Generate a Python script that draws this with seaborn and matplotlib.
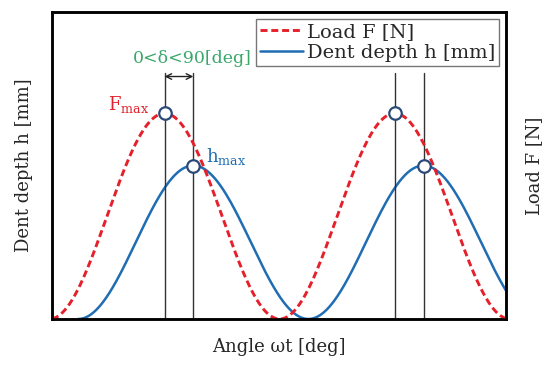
import numpy as np
import pandas as pd
import matplotlib
matplotlib.use("Agg")
import matplotlib.pyplot as plt
import seaborn as sns

# schematic values
period_deg = 360.0       # one load cycle
x_range = [4, 714]       # visible angle range [deg]
load_peak = 0.67         # peak of load curve (axis fraction of height)
depth_peak = 0.50        # peak of dent depth curve
phase_lag_deg = 45.0     # delta between Fmax and hmax
fmax_angles = [180, 540]
hmax_angles = [225, 585]
guide_top = 0.80
arrow_y = 0.79

legend_labels = ["Load F [N]", "Dent depth h [mm]"]
red = "#e5202a"
blue = "#1f6db3"
ring = "#2b4a7a"
green = "#3aa86b"

theta = np.linspace(x_range[0], x_range[1], 800)
load_df = pd.DataFrame({
    "angle": theta,
    "load": load_peak * (1 - np.cos(np.radians(theta * 360 / period_deg))) / 2,
})
# the depth curve only starts once the first dent begins
theta_h = np.linspace(phase_lag_deg, x_range[1], 800)
depth_df = pd.DataFrame({
    "angle": theta_h,
    "depth": depth_peak * (1 - np.cos(np.radians((theta_h - phase_lag_deg) * 360 / period_deg))) / 2,
})

sns.set_style("white")
plt.rcParams["font.family"] = ["DejaVu Serif"]
plt.rcParams["mathtext.fontset"] = "dejavuserif"

fig = plt.figure(figsize=(5.53, 3.65), dpi=100)
ax = fig.add_axes([0.094, 0.126, 0.821, 0.841])
ax2 = ax.twinx()

sns.lineplot(data=depth_df, x="angle", y="depth", ax=ax, color=blue, lw=1.8,
             label=legend_labels[1], legend=False)
sns.lineplot(data=load_df, x="angle", y="load", ax=ax2, color=red, lw=2.1,
             linestyle=(0, (2.4, 1.3)), label=legend_labels[0], legend=False)

for a in ax, ax2:
    a.set_xlim(x_range)
    a.set_ylim(0, 1)
    a.set_xticks([])
    a.set_yticks([])

# guide lines through the peaks
for xa in fmax_angles + hmax_angles:
    ax2.plot([xa, xa], [0, guide_top], color="#333333", lw=1.0, zorder=1)

ax2.plot(fmax_angles, [load_peak] * 2, "o", ms=9, mfc="white", mec=ring, mew=1.6, zorder=5)
ax2.plot(hmax_angles, [depth_peak] * 2, "o", ms=9, mfc="white", mec=ring, mew=1.6, zorder=5)

ax2.annotate("", xy=(fmax_angles[0], arrow_y), xytext=(hmax_angles[0], arrow_y),
             arrowprops=dict(arrowstyle="<->", color="#222222", lw=1.0,
                             shrinkA=0, shrinkB=0))
ax2.text(224, 0.85, "0<δ<90[deg]", color=green, fontsize=12.5, ha="center", va="center")
ax2.text(124, 0.70, r"F$_{\rm max}$", color=red, fontsize=13, ha="center", va="center")
ax2.text(245, 0.53, r"h$_{\rm max}$", color=blue, fontsize=13, ha="left", va="center")

ax.set_xlabel("Angle ωt [deg]", fontsize=13, labelpad=14)
ax.set_ylabel("Dent depth h [mm]", fontsize=13, labelpad=14)
ax2.set_ylabel("Load F [N]", fontsize=13, labelpad=14)

for a in ax, ax2:
    for s in a.spines.values():
        s.set_color("black")
        s.set_linewidth(1.8)

h1, l1 = ax2.get_legend_handles_labels()
h2, l2 = ax.get_legend_handles_labels()
leg = ax2.legend(h1[:1] + h2[:1], legend_labels, loc="upper right",
                 fontsize=14, frameon=True, fancybox=False, framealpha=1,
                 edgecolor="#777777", borderpad=0.2, labelspacing=0.15,
                 handlelength=2.2, handletextpad=0.2, borderaxespad=0.35)
leg.get_frame().set_linewidth(1.0)

fig.savefig("out.png", dpi=100)
